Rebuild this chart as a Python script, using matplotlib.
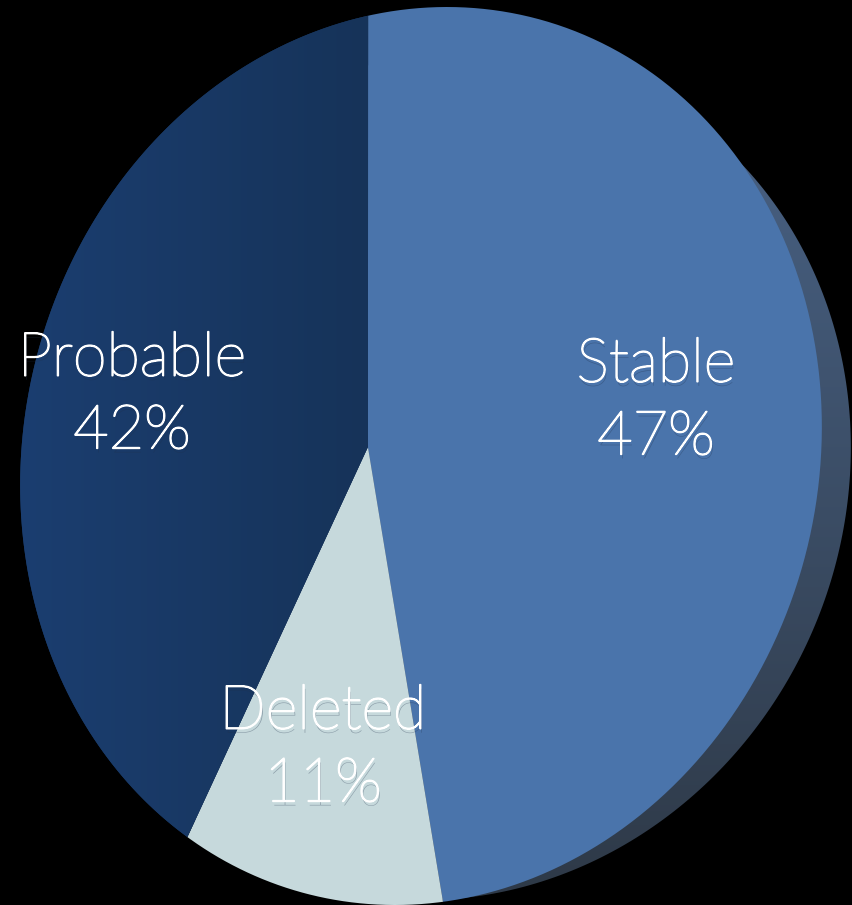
import numpy as np
import matplotlib.pyplot as plt
from matplotlib import patheffects as pe
from matplotlib.colors import LinearSegmentedColormap
from matplotlib.patches import Polygon
from matplotlib.transforms import Affine2D

labels = ['Stable', 'Deleted', 'Probable']
values = [47, 11, 42]
colors = ['#4a74ab', '#c6d9dc', '#17365f']
text_pos = [(656, 401), (323, 748), (132, 395)]

W, H = 853, 905

plt.rcParams['font.family'] = ['Lato', 'DejaVu Sans']


def tilt(x, y, cx, cy, a, s, b):
    # unit circle -> slanted ellipse in pixels
    return cx + a * x + s * y, cy - b * y


def perspective(xy, u, v):
    # moves the disc centre to (u, 0) so the pie looks turned away
    x, y = xy[:, 0], xy[:, 1]
    d = 1 + x * u
    return (x + u) / d, y * np.sqrt(1 - u * u) / d + v * (1 - x * x - y * y)


fig = plt.figure(figsize=(W / 100, H / 100), dpi=100, facecolor='black')
ax = fig.add_axes([0, 0, 1, 1])

wedges, _ = ax.pie(values, colors=colors, startangle=93.65, counterclock=False,
                   wedgeprops={'linewidth': 0})

ax.set_aspect('auto')
ax.set_xlim(0, W)
ax.set_ylim(H, 0)
ax.axis('off')

# rim behind the pie
t = np.linspace(0, 2 * np.pi, 400)
rx, ry = tilt(np.cos(t), np.sin(t), 450, 475, 400, 26, 425)
rim = Polygon(np.column_stack([rx, ry]), facecolor='none', edgecolor='none')
ax.add_patch(rim)
im = ax.imshow(np.linspace(0, 1, 256).reshape(-1, 1), extent=(0, W, 905, 50), aspect='auto',
               cmap=LinearSegmentedColormap.from_list('rim', ['#4a6488', '#2e3947']),
               zorder=1)
im.set_clip_path(rim)

for w, c in zip(wedges, colors):
    w.set_visible(False)
    pts = w.get_path().to_polygons(Affine2D().scale(1000), closed_only=True)[0] / 1000
    px, py = perspective(pts, -0.134, 0.02)
    px, py = tilt(px, py, 421, 456, 400, 26, 449)
    poly = Polygon(np.column_stack([px, py]), facecolor=c, edgecolor='none', zorder=2)
    ax.add_patch(poly)
    if c == colors[2]:
        # probable wedge gets darker towards the middle
        shade = ax.imshow(np.linspace(0, 1, 256).reshape(1, -1), extent=(20, 368, 905, 0), aspect='auto',
                          cmap=LinearSegmentedColormap.from_list('p', ['#1b3e70', '#163359']),
                          zorder=3)
        shade.set_clip_path(poly)

ax.set_xlim(0, W)
ax.set_ylim(H, 0)

for name, v, (x, y) in zip(labels, values, text_pos):
    txt = ax.text(x, y, f'{name}\n{v}%', color='white', fontsize=44, ha='center', va='center',
                  linespacing=1.37, zorder=10, fontweight='light')
    txt.set_path_effects([pe.SimplePatchShadow(offset=(1, -3), shadow_rgbFace='#20304a', alpha=0.35),
                          pe.Stroke(linewidth=1.2, foreground='white'),
                          pe.Normal()])

fig.savefig('out.png', dpi=100, facecolor='black')
